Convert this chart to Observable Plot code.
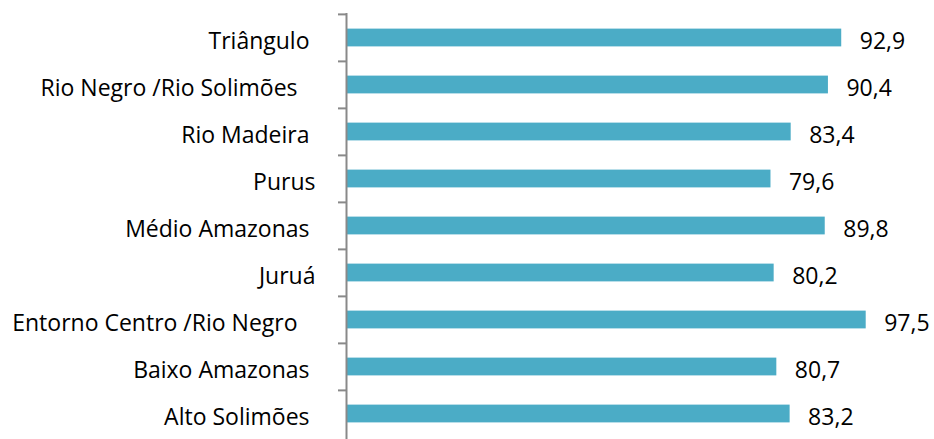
<!DOCTYPE html>
<html>
<head>
<meta charset="utf-8">
<script src="https://cdn.jsdelivr.net/npm/d3@7"></script>
<script src="https://cdn.jsdelivr.net/npm/@observablehq/plot@0.6"></script>
<style>
  html, body { margin: 0; padding: 0; background: #fff; }
  svg text { white-space: pre; }
</style>
</head>
<body>
<div id="chart"></div>
<script>
const categories = [
  "Triângulo ",
  "Rio Negro /Rio Solimões   ",
  "Rio Madeira ",
  "Purus",
  "Médio Amazonas ",
  "Juruá",
  "Entorno Centro /Rio Negro   ",
  "Baixo Amazonas ",
  "Alto Solimões "
];
const values = [92.9, 90.4, 83.4, 79.6, 89.8, 80.2, 97.5, 80.7, 83.2];

const data = categories.map((c, i) => ({category: c, value: values[i]}));

const width = 934, height = 439;
const marginTop = 13, marginBottom = 1, marginLeft = 347, marginRight = 55;
const step = (height - marginTop - marginBottom) / categories.length;
const barH = 18;
const inset = (step - barH) / 2;
const fmt = v => v.toFixed(1).replace(".", ",");
const font = "'Open Sans', sans-serif";

const chart = Plot.plot({
  width, height, marginTop, marginBottom, marginLeft, marginRight,
  style: {fontFamily: font, fontSize: "23px", color: "#000", background: "#fff"},
  x: {domain: [0, 100], axis: null},
  y: {domain: categories, padding: 0, label: null},
  marks: [
    Plot.axisY({tickSize: 0, tickPadding: 32, fontSize: 23, dy: 4, fill: "#000"}),
    Plot.barX(data, {y: "category", x: "value", fill: "#4bacc6", insetTop: inset, insetBottom: inset}),
    Plot.ruleY(categories, {y: d => d, x1: 0, x2: 0, insetLeft: -8, dy: -step / 2, dx: -1, stroke: "#898989", strokeWidth: 2}),
    Plot.ruleX([0], {stroke: "#898989", strokeWidth: 2, dx: -1, insetBottom: -1}),
    Plot.text(data, {y: "category", x: "value", text: d => fmt(d.value), textAnchor: "start", dx: 18, dy: 4, fontSize: 23, fill: "#000"})
  ]
});
document.getElementById("chart").appendChild(chart);
</script>
</body>
</html>
